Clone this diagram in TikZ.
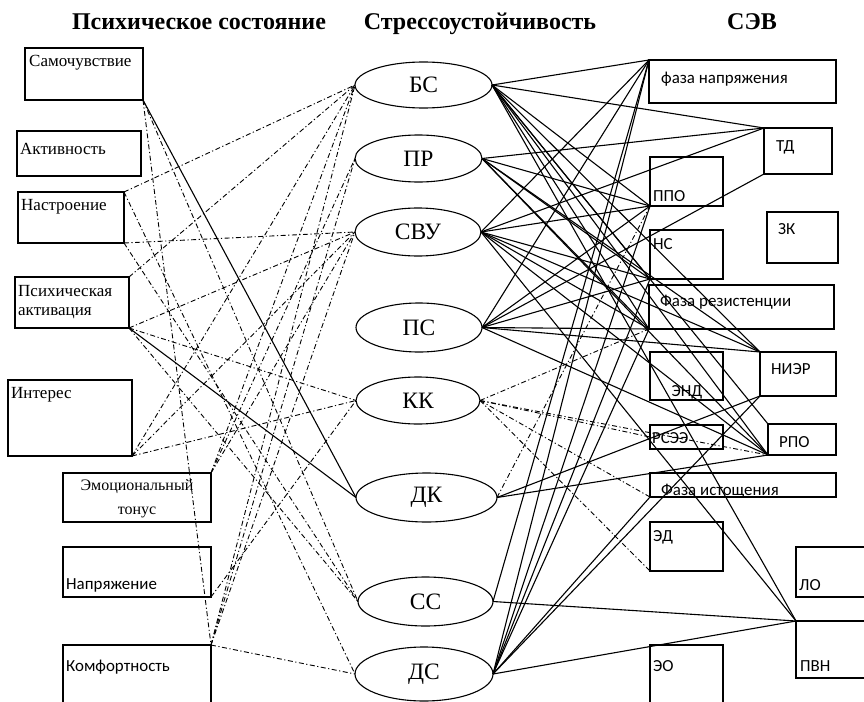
\documentclass[tikz,border=0pt]{standalone}
\usepackage{fontspec}
\setmainfont{Liberation Serif}
\newfontfamily\carl{Carlito}
\usetikzlibrary{shapes.geometric}
\begin{document}
\begin{tikzpicture}[x=1pt,y=-1pt,
  box/.style={draw, line width=1.1pt, rectangle, inner sep=0pt, outer sep=0pt},
  ell/.style={draw, line width=1.1pt, ellipse, inner sep=0pt, outer sep=0pt, font=\fontsize{23.5}{25}\selectfont},
  ltxt/.style={anchor=west, inner sep=0pt, font=\fontsize{17}{19}\selectfont},
  rtxt/.style={anchor=west, inner sep=0pt, font=\carl\fontsize{16.9}{19}\selectfont},
  ttl/.style={font=\bfseries\fontsize{24}{26}\selectfont, inner sep=0pt, anchor=base},
  dd/.style={line width=0.9pt, dash pattern=on 5pt off 2.5pt on 1.2pt off 2.5pt},
  sl/.style={line width=1.1pt}]
\useasboundingbox (0,0) rectangle (864,701);

% titles
\node[ttl] (t1) at (199,29.5) {Психическое состояние};
\node[ttl] (t2) at (480,29.5) {Стрессоустойчивость};
\node[ttl] (t3) at (752,29.5) {СЭВ};

% left boxes
\node[box, minimum width=118pt, minimum height=52pt] (sam) at (84,74) {};
\node[box, minimum width=124pt, minimum height=45pt] (akt) at (79,153.5) {};
\node[box, minimum width=106pt, minimum height=51pt] (nas) at (71,217.5) {};
\node[box, minimum width=114pt, minimum height=51pt] (psy) at (72,302.5) {};
\node[box, minimum width=124pt, minimum height=76pt] (int) at (70,418) {};
\node[box, minimum width=148pt, minimum height=49pt] (emo) at (137,497.5) {};
\node[box, minimum width=148pt, minimum height=50pt] (nap) at (137,572) {};
\node[box, minimum width=148pt, minimum height=70pt] (kom) at (137,680) {};

\node[ltxt] (lsam) at (29,63) {Самочувствие};
\node[ltxt] (lakt) at (20,149) {Активность};
\node[ltxt] (lnas) at (21,207) {Настроение};
\node[ltxt] (lpsy1) at (18,291) {Психическая};
\node[ltxt] (lpsy2) at (18,313) {активация};
\node[ltxt] (lint) at (11,395) {Интерес};
\node[ltxt, anchor=center, font=\fontsize{16}{18}\selectfont] (lemo1) at (137,487) {Эмоциональный};
\node[ltxt, anchor=center, font=\fontsize{16}{18}\selectfont] (lemo2) at (137,512) {тонус};
\node[rtxt] (lnap) at (66,585) {Напряжение};
\node[rtxt] (lkom) at (66,667) {Комфортность};

% ellipses
\node[ell, minimum width=137pt, minimum height=46pt] (bs) at (423.5,85) {БС};
\node[ell, minimum width=127pt, minimum height=47pt] (pr) at (418.5,158.5) {ПР};
\node[ell, minimum width=126pt, minimum height=48pt] (svu) at (418,232) {СВУ};
\node[ell, minimum width=126pt, minimum height=49pt] (ps) at (419,327.5) {ПС};
\node[ell, minimum width=124pt, minimum height=47pt] (kk) at (418,400.5) {КК};
\node[ell, minimum width=141pt, minimum height=49pt] (dk) at (426.5,497.5) {ДК};
\node[ell, minimum width=135pt, minimum height=49pt] (ss) at (425.5,601.5) {СС};
\node[ell, minimum width=138pt, minimum height=54pt] (ds) at (424,674) {ДС};

% right boxes
\node[box, minimum width=187pt, minimum height=43pt] (fn) at (742.5,81.5) {};
\node[box, minimum width=68pt, minimum height=46pt] (td) at (798,151) {};
\node[box, minimum width=73pt, minimum height=49pt] (ppo) at (686.5,181.5) {};
\node[box, minimum width=71pt, minimum height=51pt] (zk) at (802.5,237.5) {};
\node[box, minimum width=73pt, minimum height=49pt] (ns) at (686.5,254.5) {};
\node[box, minimum width=185pt, minimum height=44pt] (fr) at (741.5,307) {};
\node[box, minimum width=73pt, minimum height=48pt] (end) at (686.5,376) {};
\node[box, minimum width=76pt, minimum height=44pt] (nier) at (798,374) {};
\node[box, minimum width=73pt, minimum height=24pt] (rsee) at (686.5,437) {};
\node[box, minimum width=68pt, minimum height=31pt] (rpo) at (802,439.5) {};
\node[box, minimum width=186pt, minimum height=24pt] (fi) at (743,485) {};
\node[box, minimum width=73pt, minimum height=49pt] (ed) at (686.5,546.5) {};
\node[box, line width=2.4pt, minimum width=84pt, minimum height=50pt] (lo) at (838,572) {};
\node[box, minimum width=84pt, minimum height=57pt] (pvn) at (838,649.5) {};
\node[box, minimum width=73pt, minimum height=70pt] (eo) at (686.5,680) {};

\node[rtxt] (rfn) at (661,79) {фаза напряжения};
\node[rtxt] (rtd) at (776,147) {ТД};
\node[rtxt] (rppo) at (653,196) {ППО};
\node[rtxt] (rzk) at (778,229) {ЗК};
\node[rtxt] (rns) at (653,244) {НС};
\node[rtxt] (rfr) at (660,302) {Фаза резистенции};
\node[rtxt, anchor=center] (rend) at (687,392) {ЭНД};
\node[rtxt] (rnier) at (771,369) {НИЭР};
\node[rtxt] (rrsee) at (652,438) {РСЭЭ};
\node[rtxt] (rrpo) at (779,442) {РПО};
\node[rtxt] (rfi) at (661,491) {Фаза истощения};
\node[rtxt] (red) at (653,537) {ЭД};
\node[rtxt] (rlo) at (799,585) {ЛО};
\node[rtxt] (rpvn) at (800,666) {ПВН};
\node[rtxt] (reo) at (653,666) {ЭО};

% left connectors (dash-dot)
\foreach \a/\b in {nas.north east/bs.west, nas.north east/ds.west, nas.south east/svu.west,
  nas.south east/ss.west, psy.north east/bs.west, psy.south east/svu.west, psy.south east/kk.west,
  psy.south east/ss.west, int.south east/bs.west, int.south east/svu.west, int.south east/kk.west,
  emo.north east/bs.west, emo.north east/svu.west, emo.north east/pr.west, nap.south east/kk.west,
  kom.north east/bs.west, kom.north east/svu.west, kom.north east/pr.west, kom.north east/ds.west,
  sam.south east/ss.west, sam.south east/kom.north east}
  \draw[dd] (\a) -- (\b);

% left solid connectors
\draw[sl] (sam.south east) -- (dk.west);
\draw[sl] (psy.south east) -- (dk.west);

% right solid connectors
\foreach \a/\b in {bs.east/fn.north west, bs.east/td.north west, bs.east/ppo.south west,
  bs.east/ns.south west, bs.east/fr.south west, bs.east/nier.north west, bs.east/rpo.south west,
  bs.east/pvn.north west, bs.east/rpo.north west,
  pr.east/td.north west, pr.east/ppo.south west, pr.east/ns.south west, pr.east/fr.south west,
  pr.east/nier.north west, pr.east/rpo.south west,
  svu.east/fn.north west, svu.east/td.north west, svu.east/ppo.south west, svu.east/ns.south west,
  svu.east/fr.south west, svu.east/nier.north west, svu.east/rpo.south west, svu.east/pvn.north west,
  ps.east/fn.north west, ps.east/td.south west, ps.east/ppo.south west, ps.east/ns.south west,
  ps.east/fr.south west, ps.east/nier.north west, ps.east/rpo.south west,
  dk.east/nier.south west, dk.east/rpo.south west,
  ss.east/fn.north west, ss.east/pvn.north west,
  ds.east/fn.north west, ds.east/ppo.south west, ds.east/ns.south west, ds.east/fr.south west,
  ds.east/fi.south west, ds.east/pvn.north west, ds.east/nier.south west}
  \draw[sl] (\a) -- (\b);

% right dash-dot connectors
\foreach \a/\b in {kk.east/fr.south west, kk.east/rpo.south west, kk.east/fi.south west,
  kk.east/ed.south west, kk.east/rsee.west, dk.east/ppo.south west}
  \draw[dd] (\a) -- (\b);
\end{tikzpicture}
\end{document}
